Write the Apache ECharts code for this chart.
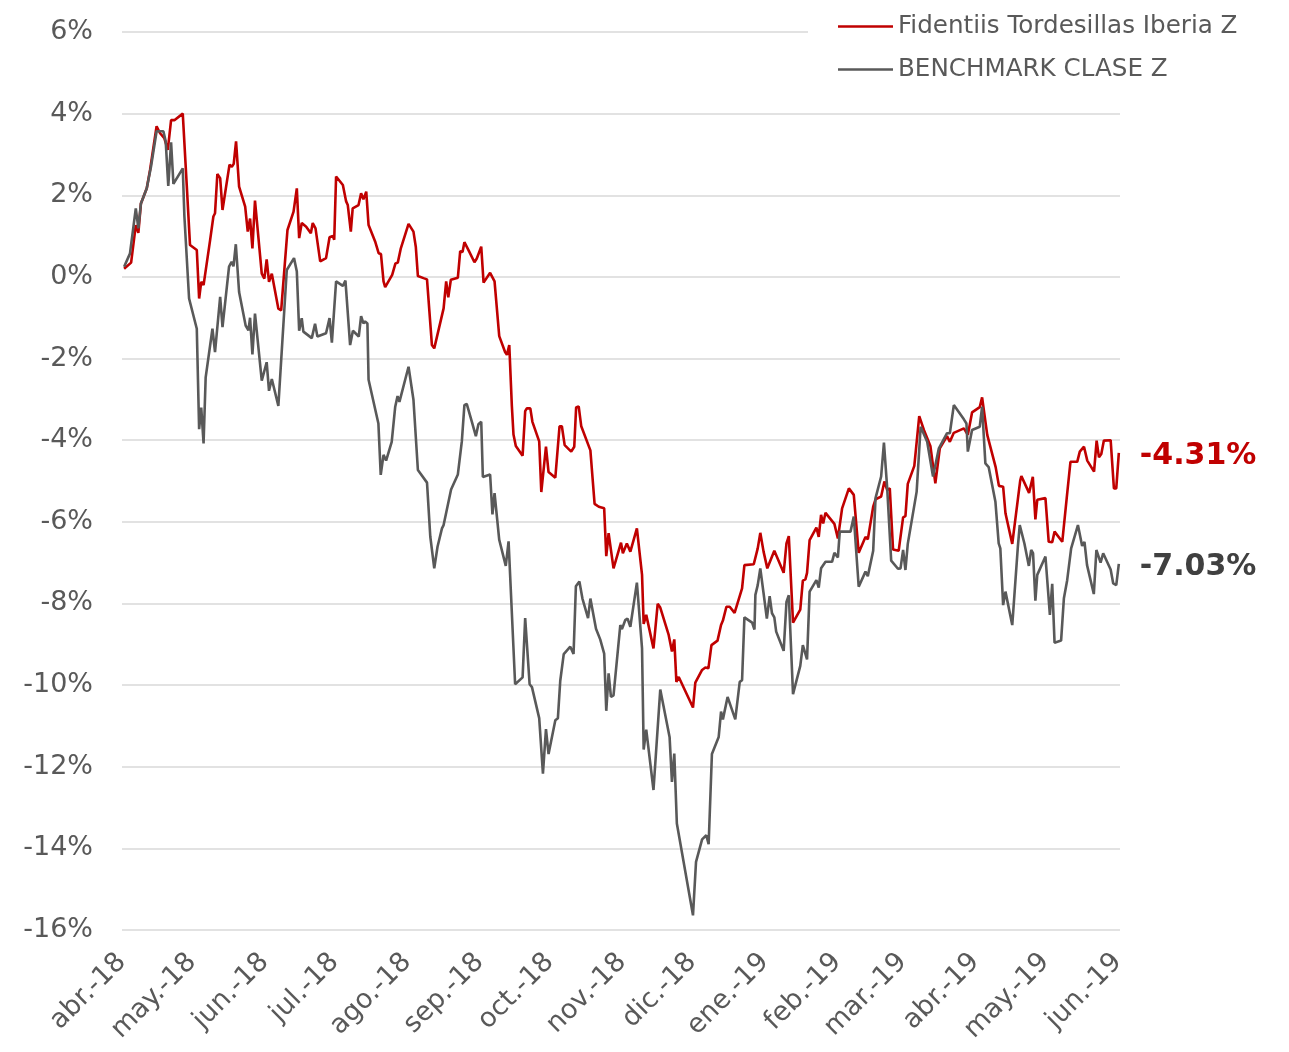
<!DOCTYPE html>
<html>
<head>
<meta charset="utf-8">
<script src="https://cdn.jsdelivr.net/npm/echarts@6/dist/echarts.min.js"></script>
<style>
  html, body { margin: 0; padding: 0; background: #fff; }
  #main { width: 1289px; height: 1052px; }
</style>
</head>
<body>
<div id="main"></div>
<script>
// x axis: days counted from 1 abr 2018, labels on month starts
var monthStarts = [0, 30, 61, 91, 122, 153, 183, 214, 244, 275, 306, 334, 365, 395, 426];
var monthLabels = ['abr.-18', 'may.-18', 'jun.-18', 'jul.-18', 'ago.-18', 'sep.-18', 'oct.-18',
  'nov.-18', 'dic.-18', 'ene.-19', 'feb.-19', 'mar.-19', 'abr.-19', 'may.-19', 'jun.-19'];

var fundName = 'Fidentiis Tordesillas Iberia Z';
var benchName = 'BENCHMARK CLASE Z';

var fundDays = [0.9,3.9,5.9,7.0,8.1,10.6,12.0,14.8,16.3,18.1,
  19.6,21.0,22.4,26.0,27.7,29.1,32.0,33.0,33.9,34.9,
  37.7,39.1,39.8,40.8,42.0,43.0,46.0,47.0,47.8,48.8,
  50.1,52.7,53.8,54.8,55.8,56.9,59.8,60.9,61.9,62.9,
  64.1,66.9,68.1,70.8,73.4,74.8,75.8,76.9,78.8,80.8,
  81.6,82.8,84.8,87.3,88.8,90.2,90.8,91.6,94.5,95.9,
  96.6,97.9,98.7,101.2,102.3,103.3,104.5,105.5,108.3,109.8,
  110.8,111.9,112.6,115.6,117.0,118.0,119.3,122.6,124.7,125.7,
  126.6,129.0,130.5,132.6,133.6,137.6,138.7,139.6,140.7,143.7,
  144.7,145.7,146.5,148.3,150.8,151.8,153.7,154.7,157.5,159.4,
  161.4,163.9,164.7,165.7,166.8,167.5,168.5,171.4,172.5,173.2,
  174.7,175.6,178.5,179.4,181.4,182.5,185.4,187.2,188.2,189.4,
  192.2,193.5,194.3,195.4,196.5,200.4,202.2,204.0,206.3,207.2,
  208.2,210.3,213.5,214.3,216.0,217.5,220.3,222.5,223.2,224.3,
  227.4,229.2,230.3,233.9,235.3,236.3,237.2,238.2,244.3,245.3,
  248.2,249.6,250.9,252.2,254.8,256.3,257.1,258.6,260.0,262.1,
  265.3,266.3,270.3,272.0,273.1,274.5,276.1,279.1,283.1,284.3,
  285.3,287.1,290.2,291.3,292.4,293.1,294.2,297.1,298.1,299.1,
  300.0,301.0,304.8,306.3,308.1,311.0,313.1,315.2,318.1,319.1,
  321.4,322.4,324.8,326.2,327.4,328.5,329.9,332.3,334.2,335.2,
  336.2,339.0,341.1,343.1,345.9,348.0,349.9,353.0,354.2,355.9,
  360.2,361.9,363.7,367.0,368.0,370.2,373.8,375.2,377.0,378.0,
  380.9,384.3,384.8,388.1,389.7,390.8,391.6,395.1,396.5,398.0,
  399.0,402.3,404.2,405.8,408.7,409.8,411.6,413.0,415.9,417.0,
  418.0,419.0,420.1,423.0,424.4,425.4,426.5];
var fundValues = [0.20,0.35,1.27,1.08,1.80,2.17,2.62,3.69,3.52,3.40,
  3.11,3.84,3.84,4.00,2.25,0.78,0.66,-0.53,-0.12,-0.20,
  0.90,1.48,1.56,2.52,2.42,1.64,2.75,2.70,2.77,3.32,
  2.21,1.72,1.11,1.43,0.70,1.87,0.08,-0.04,0.43,-0.12,
  0.08,-0.78,-0.82,1.15,1.60,2.17,0.95,1.32,1.23,1.07,
  1.32,1.19,0.38,0.46,0.97,1.00,0.91,2.46,2.25,1.85,
  1.76,1.11,1.68,1.76,2.05,1.90,2.09,1.27,0.87,0.58,
  0.56,-0.11,-0.25,0.05,0.33,0.35,0.70,1.30,1.11,0.74,
  0.02,-0.03,-0.06,-1.67,-1.75,-0.77,-0.11,-0.50,-0.07,-0.02,
  0.63,0.61,0.85,0.65,0.36,0.45,0.74,-0.14,0.10,-0.11,
  -1.45,-1.84,-1.91,-1.67,-3.16,-3.86,-4.14,-4.38,-3.29,-3.22,
  -3.22,-3.55,-4.03,-5.27,-4.16,-4.78,-4.92,-3.66,-3.66,-4.12,
  -4.28,-4.16,-3.20,-3.17,-3.66,-4.25,-5.56,-5.63,-5.67,-6.84,
  -6.28,-7.14,-6.51,-6.77,-6.53,-6.73,-6.16,-7.30,-8.50,-8.28,
  -9.10,-8.01,-8.10,-8.77,-9.18,-8.88,-9.92,-9.80,-10.55,-9.94,
  -9.63,-9.57,-9.59,-9.02,-8.91,-8.53,-8.42,-8.08,-8.08,-8.23,
  -7.63,-7.06,-7.04,-6.65,-6.27,-6.73,-7.14,-6.71,-7.25,-6.53,
  -6.35,-8.47,-8.15,-7.44,-7.41,-7.25,-6.45,-6.14,-6.37,-5.83,
  -6.04,-5.78,-6.05,-6.41,-5.67,-5.18,-5.34,-6.76,-6.37,-6.43,
  -5.63,-5.45,-5.38,-5.01,-5.22,-5.18,-6.68,-6.71,-5.89,-5.86,
  -5.07,-4.63,-3.41,-3.75,-4.15,-5.06,-4.20,-3.90,-4.04,-3.82,
  -3.71,-3.87,-3.32,-3.19,-2.95,-3.87,-4.66,-5.12,-5.14,-5.79,
  -6.54,-4.99,-4.88,-5.29,-4.90,-5.94,-5.46,-5.42,-6.49,-6.50,
  -6.24,-6.49,-5.42,-4.53,-4.53,-4.28,-4.16,-4.50,-4.77,-4.01,
  -4.42,-4.34,-4.01,-4.00,-5.18,-5.18,-4.31];

var benchDays = [0.9,3.4,5.9,7.0,8.1,10.6,12.4,14.8,17.7,18.7,
  19.8,21.0,22.0,26.0,26.7,28.7,32.0,33.0,33.9,34.9,
  35.8,38.7,39.8,42.0,43.0,45.8,46.9,47.7,48.7,50.1,
  52.9,54.1,54.8,55.8,56.9,59.8,61.9,62.9,64.1,66.9,
  70.5,73.6,74.8,75.8,76.9,77.6,81.2,82.6,83.6,87.3,
  88.8,89.8,91.6,94.5,95.6,97.6,98.8,101.3,102.3,103.3,
  104.0,105.0,105.5,109.7,110.7,111.9,113.0,115.4,116.9,117.9,
  118.7,122.6,124.7,126.6,130.5,131.9,133.6,135.0,136.9,137.6,
  140.8,143.7,145.4,146.5,147.5,149.7,151.4,152.5,153.7,154.4,
  157.5,158.5,159.4,161.4,164.2,165.4,168.2,171.4,172.5,174.4,
  175.4,178.5,180.1,181.4,182.5,185.4,186.5,187.5,189.0,191.8,
  193.2,194.2,195.7,197.0,199.4,200.4,202.8,204.6,206.3,207.2,
  208.2,209.2,210.3,213.2,213.9,215.3,216.3,217.5,220.3,222.5,
  223.2,224.3,227.4,230.3,234.3,235.3,236.3,237.4,244.3,245.6,
  248.2,250.0,251.0,252.4,255.3,256.3,257.1,259.1,262.4,264.3,
  265.3,266.3,269.6,270.6,271.0,272.0,273.1,274.5,275.9,277.1,
  278.1,279.1,279.9,283.1,284.3,285.3,287.1,290.2,291.3,293.1,
  294.2,297.1,298.1,299.1,301.0,303.8,304.8,306.3,307.1,311.7,
  313.1,315.2,318.1,319.1,321.4,322.4,324.8,326.0,327.4,329.1,
  332.0,333.1,334.2,335.2,336.2,340.0,341.7,344.5,347.0,349.5,
  353.0,354.2,355.9,360.2,361.3,361.9,363.7,367.0,368.0,369.4,
  370.8,373.7,375.1,375.8,377.0,378.0,380.9,383.3,384.1,386.1,
  388.0,389.0,389.8,390.8,391.6,395.1,397.0,398.0,399.0,401.8,
  403.0,404.4,406.1,409.0,409.8,410.8,411.8,412.9,415.8,416.9,
  418.7,419.8,423.0,424.1,425.4,426.5];
var benchValues = [0.25,0.57,1.68,1.19,1.80,2.17,2.70,3.57,3.57,3.32,
  2.23,3.30,2.28,2.66,1.48,-0.53,-1.27,-3.73,-3.20,-4.08,
  -2.46,-1.27,-1.84,-0.49,-1.23,0.25,0.37,0.26,0.80,-0.37,
  -1.19,-1.31,-1.00,-1.90,-0.90,-2.54,-2.09,-2.79,-2.50,-3.16,
  0.17,0.46,0.13,-1.32,-1.01,-1.34,-1.50,-1.15,-1.46,-1.38,
  -1.01,-1.61,-0.11,-0.22,-0.09,-1.67,-1.32,-1.46,-0.96,-1.14,
  -1.09,-1.14,-2.52,-3.59,-4.85,-4.36,-4.50,-4.04,-3.18,-2.92,
  -3.06,-2.20,-3.01,-4.73,-5.04,-6.36,-7.14,-6.61,-6.16,-6.08,
  -5.21,-4.84,-4.03,-3.14,-3.11,-3.55,-3.90,-3.61,-3.55,-4.90,
  -4.84,-5.82,-5.30,-6.44,-7.08,-6.48,-9.98,-9.81,-8.36,-9.98,
  -10.05,-10.81,-12.17,-11.08,-11.69,-10.86,-10.81,-9.90,-9.24,-9.06,
  -9.24,-7.58,-7.46,-7.88,-8.36,-7.88,-8.62,-8.88,-9.23,-10.63,
  -9.71,-10.29,-10.25,-8.53,-8.63,-8.41,-8.37,-8.57,-7.49,-9.10,
  -11.58,-11.09,-12.57,-10.11,-11.28,-12.37,-11.68,-13.39,-15.64,-14.33,
  -13.78,-13.68,-13.90,-11.69,-11.27,-10.65,-10.84,-10.29,-10.84,-9.92,
  -9.88,-8.34,-8.47,-8.64,-7.79,-7.55,-7.14,-7.75,-8.37,-7.82,
  -8.24,-8.34,-8.69,-9.16,-7.96,-7.80,-10.22,-9.53,-9.02,-9.37,
  -7.71,-7.43,-7.61,-7.14,-6.98,-6.98,-6.76,-6.87,-6.24,-6.24,
  -5.87,-7.59,-7.22,-7.33,-6.71,-5.42,-4.89,-4.06,-5.18,-6.95,
  -7.15,-7.14,-6.69,-7.18,-6.54,-5.26,-3.67,-4.04,-4.89,-4.20,
  -3.83,-3.83,-3.14,-3.49,-3.59,-4.28,-3.75,-3.67,-3.18,-4.57,
  -4.66,-5.51,-6.53,-6.65,-8.04,-7.71,-8.53,-6.61,-6.08,-6.53,
  -7.08,-6.69,-6.77,-7.93,-7.30,-6.85,-8.28,-7.52,-8.96,-8.91,
  -7.87,-7.43,-6.65,-6.08,-6.12,-6.59,-6.49,-7.06,-7.77,-6.69,
  -7.00,-6.77,-7.17,-7.51,-7.55,-7.03];

var FONT = 'DejaVu Sans';

function pairs(days, vals) {
  return days.map(function (d, i) { return [d, vals[i]]; });
}

var chart = echarts.init(document.getElementById('main'));
chart.setOption({
  animation: false,
  backgroundColor: '#fff',
  grid: { left: 122, right: 169, top: 32, bottom: 122 },
  legend: {
    orient: 'vertical',
    left: 808,
    top: 0,
    padding: [14, 40, 8, 30],
    backgroundColor: '#fff',
    itemWidth: 55,
    itemHeight: 2.5,
    itemGap: 18,
    icon: 'rect',
    textStyle: { fontFamily: FONT, fontSize: 24.6, color: '#595959' },
    data: [fundName, benchName]
  },
  xAxis: {
    type: 'value',
    min: 0,
    max: 427,
    axisLine: { show: false },
    axisTick: { show: false },
    splitLine: { show: false },
    axisLabel: {
      customValues: monthStarts,
      rotate: 45,
      margin: 28,
      fontFamily: FONT,
      fontSize: 27,
      color: '#595959',
      formatter: function (v) {
        var i = monthStarts.indexOf(v);
        return i >= 0 ? monthLabels[i] : '';
      }
    }
  },
  yAxis: {
    type: 'value',
    min: -16,
    max: 6,
    interval: 2,
    axisLine: { show: false },
    axisTick: { show: false },
    splitLine: { lineStyle: { color: '#d9d9d9', width: 1.5 } },
    axisLabel: {
      margin: 29,
      fontFamily: FONT,
      fontSize: 27,
      color: '#595959',
      formatter: '{value}%'
    }
  },
  series: [
    {
      name: fundName,
      type: 'line',
      showSymbol: false,
      color: '#c00000',
      lineStyle: { width: 2.6, color: '#c00000' },
      data: pairs(fundDays, fundValues),
      endLabel: {
        show: true,
        distance: 21,
        offset: [0, 3],
        fontFamily: FONT,
        fontSize: 30,
        fontWeight: 'bold',
        color: '#c00000',
        formatter: function (p) { return p.value[1].toFixed(2) + '%'; }
      }
    },
    {
      name: benchName,
      type: 'line',
      showSymbol: false,
      color: '#595959',
      lineStyle: { width: 2.6, color: '#595959' },
      data: pairs(benchDays, benchValues),
      endLabel: {
        show: true,
        distance: 21,
        offset: [0, 3],
        fontFamily: FONT,
        fontSize: 30,
        fontWeight: 'bold',
        color: '#404040',
        formatter: function (p) { return p.value[1].toFixed(2) + '%'; }
      }
    }
  ]
});
</script>
</body>
</html>
